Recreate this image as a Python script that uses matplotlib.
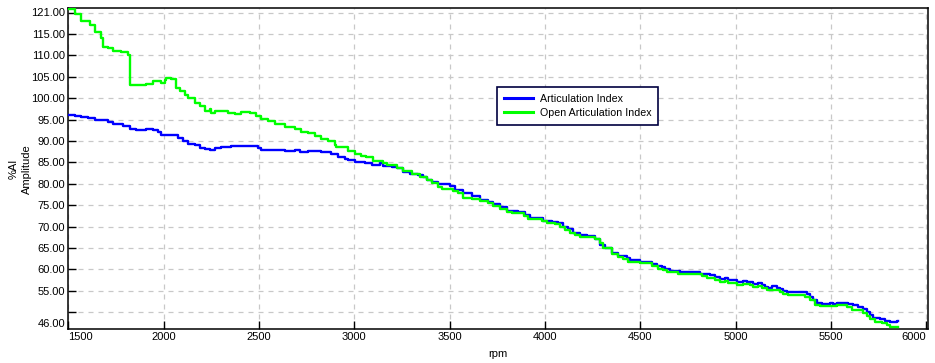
import matplotlib
matplotlib.use('Agg')
import matplotlib.pyplot as plt
from matplotlib.ticker import FixedLocator, FixedFormatter

plt.rcParams['font.family'] = ['Liberation Sans', 'DejaVu Sans']

series_names = ['Articulation Index', 'Open Articulation Index']

# Articulation Index (step series: rpm where each step starts, value)
ai_rpm = [1500, 1533, 1568, 1603, 1638, 1673, 1708, 1734, 1787, 1822, 1857, 1909, 1944, 1970,
          1988, 2023, 2075, 2101, 2128, 2163, 2189, 2215, 2242, 2268, 2303, 2355, 2408, 2495,
          2512, 2635, 2687, 2713, 2757, 2827, 2880, 2915, 2950, 2967, 3002, 3056, 3091, 3135,
          3152, 3196, 3222, 3257, 3292, 3336, 3362, 3380, 3406, 3441, 3502, 3528, 3572, 3616,
          3659, 3703, 3729, 3764, 3799, 3860, 3895, 3921, 3965, 3991, 4035, 4070, 4096, 4122,
          4149, 4184, 4219, 4262, 4289, 4315, 4350, 4385, 4428, 4446, 4498, 4559, 4585, 4612,
          4629, 4655, 4708, 4813, 4865, 4891, 4918, 4944, 4961, 4979, 5005, 5040, 5057, 5092,
          5119, 5136, 5154, 5171, 5189, 5215, 5232, 5250, 5267, 5311, 5372, 5389, 5407, 5424,
          5451, 5494, 5512, 5529, 5590, 5617, 5643, 5669, 5687, 5704, 5722, 5757, 5783, 5809,
          5844, 5853]
ai_val = [96.1, 95.9, 95.6, 95.4, 94.95, 94.8, 94.4, 94.0, 93.6, 92.85, 92.6, 92.85, 92.5, 92.0,
          91.45, 91.3, 90.8, 89.9, 89.35, 89.0, 88.35, 88.2, 88.0, 88.35, 88.6, 88.75, 88.8, 88.35,
          87.95, 87.7, 87.95, 87.4, 87.7, 87.4, 87.0, 86.3, 85.8, 85.45, 85.2, 84.75, 84.45, 84.75,
          84.2, 84.0, 83.6, 82.8, 82.4, 82.0, 81.5, 81.0, 80.5, 79.85, 79.45, 78.5, 77.75, 77.2,
          76.2, 75.8, 75.25, 74.5, 73.7, 73.45, 72.7, 72.1, 71.9, 71.35, 71.1, 70.75, 69.95, 69.4,
          68.6, 68.0, 67.75, 67.1, 65.8, 65.1, 63.9, 63.1, 62.55, 62.15, 61.75, 61.2, 60.75, 60.45,
          60.05, 59.65, 59.35, 58.9, 58.65, 58.25, 57.7, 58.1, 57.6, 57.5, 57.1, 57.3, 57.1, 56.7,
          56.85, 56.45, 55.9, 55.75, 56.1, 55.75, 55.3, 55.0, 54.75, 54.6, 54.2, 53.6, 52.8, 52.2,
          52.0, 52.25, 52.0, 52.25, 51.85, 51.6, 51.2, 50.7, 50.05, 49.3, 48.75, 48.3, 47.95, 47.7,
          47.95, 47.95]

# Open Articulation Index
oai_rpm = [1500, 1533, 1568, 1612, 1638, 1673, 1682, 1708, 1734, 1778, 1813, 1822, 1909, 1944,
           1970, 1988, 2005, 2014, 2040, 2067, 2084, 2110, 2128, 2163, 2189, 2215, 2242, 2250,
           2268, 2338, 2373, 2408, 2451, 2486, 2512, 2547, 2582, 2635, 2687, 2722, 2757, 2792,
           2827, 2862, 2897, 2906, 2967, 3002, 3037, 3060, 3100, 3152, 3170, 3222, 3257, 3301,
           3345, 3380, 3406, 3441, 3458, 3519, 3546, 3572, 3616, 3659, 3703, 3729, 3764, 3799,
           3825, 3887, 3913, 3983, 4009, 4053, 4079, 4105, 4131, 4157, 4184, 4262, 4289, 4306,
           4350, 4385, 4411, 4437, 4498, 4559, 4594, 4620, 4638, 4699, 4821, 4848, 4891, 4918,
           4944, 4961, 5005, 5040, 5075, 5092, 5119, 5136, 5162, 5232, 5250, 5276, 5311, 5363,
           5389, 5416, 5442, 5529, 5582, 5608, 5643, 5669, 5687, 5704, 5730, 5765, 5792, 5809,
           5853]
oai_val = [120.9, 119.7, 118.0, 117.2, 115.4, 114.1, 112.0, 111.7, 111.1, 110.7, 110.1, 103.0, 103.3, 103.9,
           104.0, 103.5, 104.2, 104.7, 104.4, 102.4, 101.6, 100.7, 100.0, 98.9, 98.1, 96.9, 97.4, 96.6,
           96.9, 96.6, 96.3, 96.85, 96.6, 95.75, 95.1, 94.6, 93.95, 93.25, 92.9, 92.2, 91.8, 91.05,
           90.4, 90.1, 89.0, 88.5, 87.7, 87.0, 86.6, 86.2, 85.4, 84.9, 84.4, 83.6, 83.0, 82.3,
           81.6, 80.9, 80.1, 79.3, 78.8, 78.4, 77.75, 76.7, 76.4, 76.0, 75.4, 74.8, 74.0, 73.5,
           73.1, 72.4, 71.8, 71.35, 70.9, 70.5, 69.95, 69.3, 68.4, 68.0, 67.45, 67.0, 66.05, 65.1,
           63.7, 62.9, 62.5, 61.8, 61.4, 60.75, 60.2, 59.8, 59.35, 59.0, 58.4, 58.1, 57.6, 57.1,
           57.3, 56.85, 56.3, 56.5, 56.3, 55.9, 56.15, 55.75, 55.15, 54.75, 54.35, 54.1, 53.95, 53.6,
           52.8, 51.6, 51.4, 51.6, 51.1, 50.6, 50.45, 49.85, 49.05, 48.5, 47.7, 47.5, 46.95, 46.55,
           46.55]

x_ticks = [1500, 2000, 2500, 3000, 3500, 4000, 4500, 5000, 5500, 6000]
x_long_ticks = [2000, 3000, 4000, 5000]
y_ticks = [50, 55, 60, 65, 70, 75, 80, 85, 90, 95, 100, 105, 110, 115, 120]
y_tick_labels = ['', '55.00', '60.00', '65.00', '70.00', '75.00', '80.00', '85.00', '90.00',
                 '95.00', '100.00', '105.00', '110.00', '115.00', '']
y_long_ticks = [50, 60, 70, 80, 90, 100, 110, 115]
y_min, y_max = 46, 121
x_min, x_max = 1500, 6008

W, H = 935, 363
fig = plt.figure(figsize=(W / 100, H / 100), dpi=100)
fig.patch.set_facecolor('white')
L, R, T, B = 68.3, 928.0, 8.3, 329.3
ax = fig.add_axes([L / W, (H - B) / H, (R - L) / W, (B - T) / H])

ax.plot(ai_rpm, ai_val, drawstyle='steps-post', color='#0000ff', lw=1.7, label=series_names[0], zorder=3)
ax.plot(oai_rpm, oai_val, drawstyle='steps-post', color='#00ff00', lw=1.7, label=series_names[1], zorder=3)

ax.set_xlim(x_min, x_max)
ax.set_ylim(y_min, y_max)

# x ticks
ax.xaxis.set_major_locator(FixedLocator(x_ticks))
ax.xaxis.set_major_formatter(FixedFormatter([str(v) for v in x_ticks]))
ax.xaxis.set_minor_locator(FixedLocator(x_long_ticks))
ax.tick_params(axis='x', which='major', direction='in', length=5.8, width=1.0, pad=2.2,
               labelsize=8, colors='black')
ax.tick_params(axis='x', which='minor', direction='in', length=11.5, width=1.0)
# y ticks
ax.yaxis.set_major_locator(FixedLocator(y_ticks))
ax.yaxis.set_major_formatter(FixedFormatter(y_tick_labels))
ax.yaxis.set_minor_locator(FixedLocator(y_long_ticks))
ax.tick_params(axis='y', which='major', direction='in', length=5.8, width=1.0, pad=2.2,
               labelsize=8, colors='black')
ax.tick_params(axis='y', which='minor', direction='in', length=12, width=1.0)

xl = ax.get_xticklabels()
xl[0].set_ha('left')
xl[-1].set_ha('right')

# axis-limit labels
ytr = ax.get_yaxis_transform()
ax.text(-0.0035, y_max, '%.2f' % y_max, transform=ytr, ha='right', va='top', fontsize=8)
ax.text(-0.0035, y_min, '%.2f' % y_min, transform=ytr, ha='right', va='bottom', fontsize=8)

ax.grid(True, which='major', linestyle=(0, (4, 4)), color='#c8c8c8', lw=0.9, zorder=0)
ax.set_axisbelow(True)

for s in ax.spines.values():
    s.set_linewidth(1.1)
    s.set_color('black')

fig.text(14 / W, 1 - 169 / H, '%AI', rotation=90, ha='center', va='center', fontsize=8)
fig.text(27 / W, 1 - 169 / H, 'Amplitude', rotation=90, ha='center', va='center', fontsize=8)
fig.text(498 / W, 1 - 354 / H, 'rpm', ha='center', va='center', fontsize=8)

leg = ax.legend(loc='upper left', bbox_to_anchor=(497 / W, 1 - 87 / H), bbox_transform=fig.transFigure,
                fontsize=7.7, frameon=True, fancybox=False, edgecolor='#000040', framealpha=1,
                borderpad=0.62, labelspacing=0.42, handlelength=2.7, handletextpad=0.7,
                borderaxespad=0)
leg.get_frame().set_linewidth(1.2)
for ln in leg.get_lines():
    ln.set_linewidth(2.2)

fig.savefig('out.png', dpi=100)
